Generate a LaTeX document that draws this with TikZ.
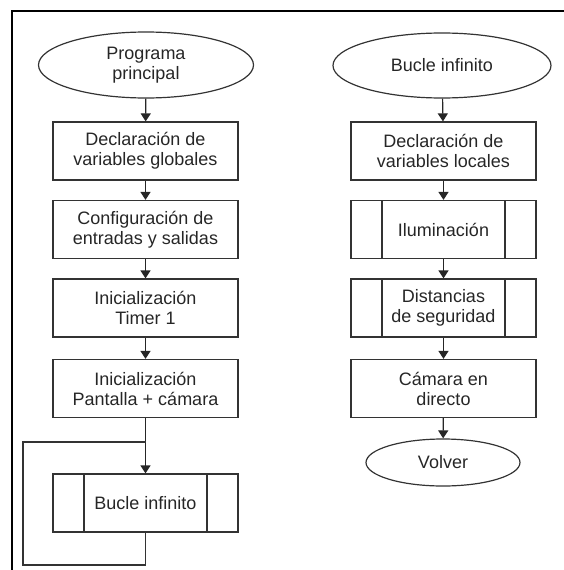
\documentclass[tikz,border=0pt]{standalone}
\usepackage{fontspec}
\setmainfont{Liberation Sans}
\usetikzlibrary{shapes.geometric,arrows.meta}
\begin{document}
\begin{tikzpicture}[x=1pt,y=-1pt,
  every node/.style={font=\fontsize{18}{20}\selectfont, text=black!85, align=center, inner sep=0pt},
  linea/.style={draw=black!80, line width=1.2pt},
  caja/.style={linea, rectangle, minimum width=185pt, minimum height=58pt},
  elipse/.style={linea, ellipse, minimum width=#1},
  subr/.style={caja, path picture={
     \draw[black!80, line width=1.2pt] ([xshift=31pt]path picture bounding box.north west) -- ([xshift=31pt]path picture bounding box.south west);
     \draw[black!80, line width=1.2pt] ([xshift=-31pt]path picture bounding box.north east) -- ([xshift=-31pt]path picture bounding box.south east);}},
  flecha/.style={black!85, line width=1.2pt, -{Triangle[length=8pt,width=10pt]}}]
\useasboundingbox (0,0) rectangle (564,570);
% marco
\draw[black, line width=2pt] (12,570) -- (12,11) -- (564,11);
% columna izquierda
\node[elipse=215pt, minimum height=66pt] (p1) at (146,65) {Programa\\principal};
\node[caja] (d1) at (145.5,151) {Declaración de\\variables globales};
\node[caja] (c1) at (145.5,229.5) {Configuración de\\entradas y salidas};
\node[caja] (t1) at (145.5,308) {Inicialización\\Timer 1};
\node[caja] (pc) at (145.5,388.5) {Inicialización\\Pantalla + cámara};
\node[subr] (bi) at (145.5,503) {Bucle infinito};
\coordinate (j) at (145.5,442);
\coordinate (l1) at (145.5,565);
\coordinate (l2) at (23,565);
\coordinate (l3) at (23,442);
\draw[flecha] (p1) -- (d1);
\draw[flecha] (d1) -- (c1);
\draw[flecha] (c1) -- (t1);
\draw[flecha] (t1) -- (pc);
\draw[flecha] (pc) -- (bi);
\draw[linea] (bi.south) -- (l1) -- (l2) -- (l3) -- (j);
% columna derecha
\node[elipse=218pt, minimum height=65pt] (p2) at (442,65.5) {Bucle infinito};
\node[caja] (d2) at (443.5,151) {Declaración de\\variables locales};
\node[subr] (il) at (443.5,229.5) {Iluminación};
\node[subr] (ds) at (443.5,308) {Distancias\\de seguridad};
\node[caja] (cd) at (443.5,388.5) {Cámara en\\directo};
\node[elipse=154pt, minimum height=47pt] (vo) at (443,462.5) {Volver};
\draw[flecha] (p2) -- (d2);
\draw[flecha] (d2) -- (il);
\draw[flecha] (il) -- (ds);
\draw[flecha] (ds) -- (cd);
\draw[flecha] (cd) -- (vo);
\end{tikzpicture}
\end{document}
